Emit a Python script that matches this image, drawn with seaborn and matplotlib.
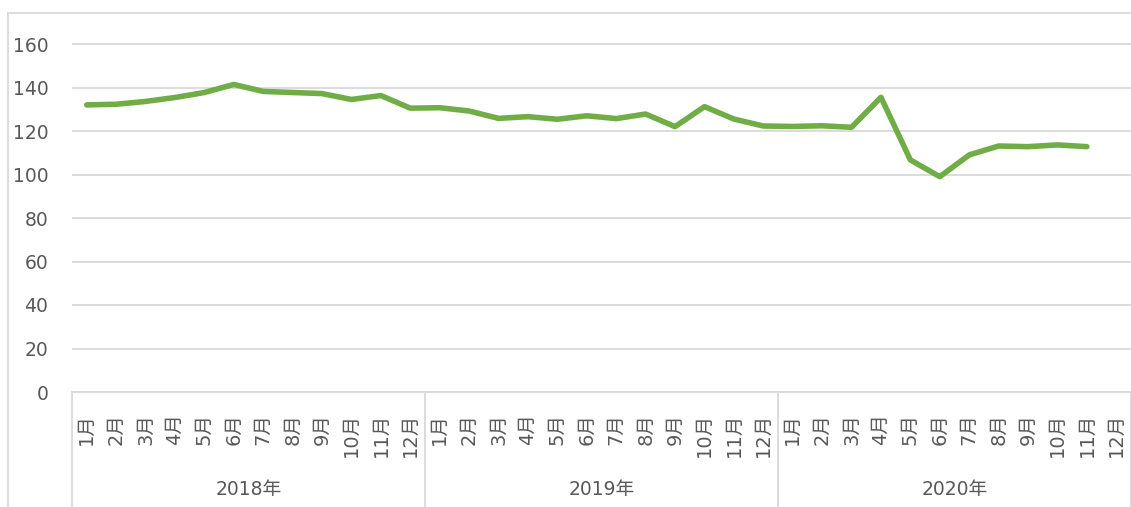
import numpy as np
import pandas as pd
import seaborn as sns
import matplotlib.pyplot as plt
from matplotlib.lines import Line2D

# data
years = ["2018年", "2019年", "2020年"]
months = [f"{m}月" for m in range(1, 13)]
values_2018 = [132.0, 132.3, 133.6, 135.4, 137.7, 141.4, 138.2, 137.7, 137.2, 134.5, 136.3, 130.5]
values_2019 = [130.7, 129.2, 125.8, 126.6, 125.4, 127.0, 125.7, 127.8, 122.0, 131.2, 125.5, 122.3]
values_2020 = [122.1, 122.4, 121.7, 135.5, 106.7, 99.0, 109.0, 113.1, 112.8, 113.6, 112.8]

values = values_2018 + values_2019 + values_2020
df = pd.DataFrame({"idx": np.arange(len(values)), "value": values})
tick_labels = months * len(years)

sns.set_theme(style="white")
plt.rcParams["font.family"] = ["DejaVu Sans", "Noto Sans CJK SC"]

W, H = 1131, 507
fig = plt.figure(figsize=(W / 100, H / 100), dpi=100)
ymax = 162
px_per_unit = 348 / 160
ax_h = ymax * px_per_unit
ax = fig.add_axes([72 / W, (H - 392) / H, (W - 72) / W, ax_h / H])

grid_c = "#d9d9d9"
text_c = "#595959"

sns.lineplot(data=df, x="idx", y="value", ax=ax, color="#70ad47", linewidth=4,
             solid_capstyle="round", solid_joinstyle="round", zorder=3)

ax.set_xlim(-0.5, len(tick_labels) - 0.5)
ax.set_ylim(0, ymax)
ax.set_yticks(range(0, 161, 20))
ax.set_xticks(range(len(tick_labels)))
ax.set_xticklabels(tick_labels, rotation=90, fontsize=14, color=text_c)
ax.tick_params(axis="x", length=0, pad=15)
ax.tick_params(axis="y", length=0, pad=17, labelsize=13.5, labelcolor=text_c)
ax.set_xlabel("")
ax.set_ylabel("")

ax.yaxis.grid(True, color=grid_c, linewidth=1.3)
ax.xaxis.grid(False)
for s in ["top", "right", "left"]:
    ax.spines[s].set_visible(False)
ax.spines["bottom"].set_color(grid_c)
ax.spines["bottom"].set_linewidth(1.3)

# year group separators and labels under the month labels
tr = ax.get_xaxis_transform()
for i in range(len(years) + 1):
    x = i * 12 - 0.5
    ax.add_line(Line2D([x, x], [0, -0.5], transform=tr, color=grid_c,
                       linewidth=1.3, clip_on=False))
for i, yr in enumerate(years):
    ax.text(i * 12 + 5.5, -98 / ax_h, yr, transform=tr, ha="center", va="center",
            fontsize=13.5, color=text_c)

# outer chart border
fig.add_artist(Line2D([8 / W, 8 / W], [0, 1 - 13 / H], color=grid_c, linewidth=1.3))
fig.add_artist(Line2D([8 / W, 1], [1 - 13 / H, 1 - 13 / H], color=grid_c, linewidth=1.3))

fig.savefig("out.png", dpi=100)
